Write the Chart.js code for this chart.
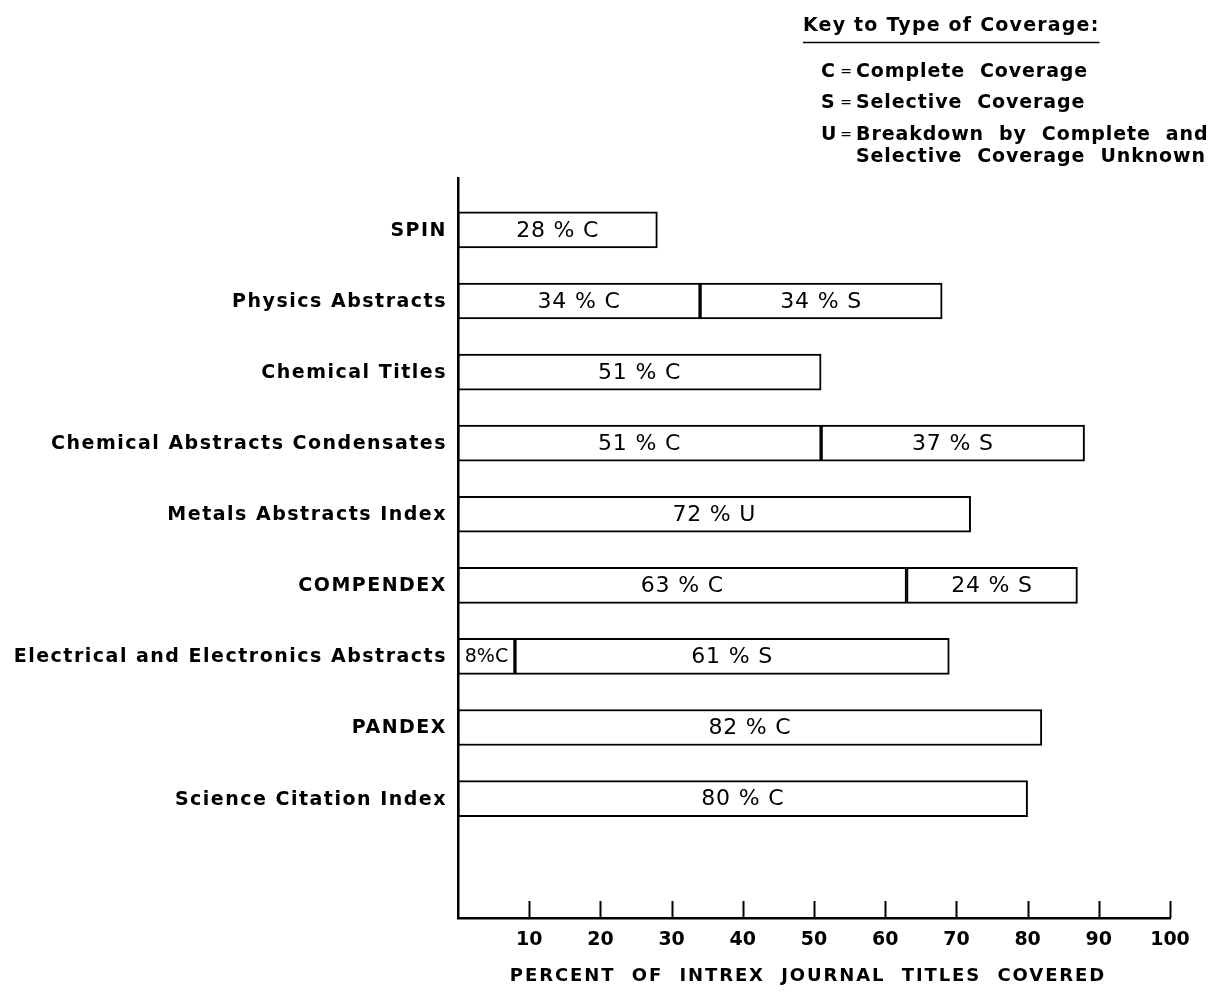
<!DOCTYPE html>
<html>
<head>
<meta charset="utf-8">
<script src="https://cdn.jsdelivr.net/npm/chart.js@4/dist/chart.umd.min.js"></script>
<style>
  html, body { margin: 0; padding: 0; background: #fff; }
  #wrap { width: 1219px; height: 994px; }
</style>
</head>
<body>
<div id="wrap"><canvas id="coverageChart"></canvas></div>
<script>
// services, top to bottom
var services = ['SPIN', 'Physics Abstracts', 'Chemical Titles', 'Chemical Abstracts Condensates',
  'Metals Abstracts Index', 'COMPENDEX', 'Electrical and Electronics Abstracts', 'PANDEX',
  'Science Citation Index'];
// percent of journal titles covered, by type of coverage
var complete  = [28, 34, 51, 51, null, 63, 8, 82, 80];
var selective = [null, 34, null, 37, null, 24, 61, null, null];
var unknown   = [null, null, null, null, 72, null, null, null, null];
var xTickValues = [10, 20, 30, 40, 50, 60, 70, 80, 90, 100];
var xTitle = 'PERCENT  OF  INTREX  JOURNAL  TITLES  COVERED';

var keyTitle = 'Key to Type of Coverage:';
var keyLines = [
  ['C', 'Complete  Coverage'],
  ['S', 'Selective  Coverage'],
  ['U', 'Breakdown  by  Complete  and'],
  ['', 'Selective  Coverage  Unknown']
];

var FONT = '"DejaVu Sans", sans-serif';

function points(arr) {
  var out = [];
  for (var i = 0; i < arr.length; i++) {
    if (arr[i] != null) out.push({ x: arr[i], y: i });
  }
  return out;
}

function barSet(label, code, arr) {
  return {
    label: label,
    code: code,
    data: points(arr),
    backgroundColor: '#fff',
    borderColor: '#000',
    borderWidth: 2,
    borderSkipped: false,
    barThickness: 36
  };
}

// text inside each bar segment
var barLabels = {
  id: 'barLabels',
  afterDatasetsDraw: function(chart) {
    var ctx = chart.ctx;
    ctx.save();
    ctx.fillStyle = '#000';
    ctx.textAlign = 'center';
    ctx.textBaseline = 'middle';
    chart.data.datasets.forEach(function(ds, di) {
      var meta = chart.getDatasetMeta(di);
      meta.data.forEach(function(bar, j) {
        var v = ds.data[j].x;
        var w = Math.abs(bar.x - bar.base);
        var narrow = w < 80;
        var txt = narrow ? v + '%' + ds.code : v + ' % ' + ds.code;
        ctx.font = (narrow ? '19px ' : '22px ') + FONT;
        ctx.letterSpacing = narrow ? '0px' : '0.8px';
        ctx.fillText(txt, (bar.x + bar.base) / 2, bar.y + 1);
      });
    });
    ctx.restore();
  }
};

// category labels, axis title, upward tick marks and the key
var extras = {
  id: 'extras',
  afterDraw: function(chart) {
    var ctx = chart.ctx;
    var xs = chart.scales.x;
    var ys = chart.scales.y;
    var area = chart.chartArea;
    ctx.save();
    ctx.strokeStyle = '#000';
    ctx.fillStyle = '#000';
    ctx.lineWidth = 2;
    xTickValues.forEach(function(v) {
      var px = Math.round(xs.getPixelForValue(v)) + 0.5;
      ctx.beginPath();
      ctx.moveTo(px, area.bottom);
      ctx.lineTo(px, area.bottom - 17);
      ctx.stroke();
    });

    // category names
    ctx.font = 'bold 19px ' + FONT;
    ctx.letterSpacing = '1.5px';
    ctx.textAlign = 'right';
    ctx.textBaseline = 'middle';
    services.forEach(function(s, i) {
      ctx.fillText(s, area.left - 11, ys.getPixelForValue(i) + 1);
    });

    // axis title
    ctx.font = 'bold 18px ' + FONT;
    ctx.letterSpacing = '1.9px';
    ctx.textAlign = 'center';
    ctx.fillText(xTitle, 808, 976);

    // key
    ctx.textBaseline = 'alphabetic';
    ctx.textAlign = 'left';
    ctx.font = 'bold 19px ' + FONT;
    ctx.letterSpacing = '1.2px';
    ctx.fillText(keyTitle, 803, 31);
    var tw = ctx.measureText(keyTitle).width;
    ctx.lineWidth = 1.5;
    ctx.beginPath();
    ctx.moveTo(803, 42.5);
    ctx.lineTo(803 + tw, 42.5);
    ctx.stroke();

    ctx.letterSpacing = '0.9px';
    var ky = [77, 108, 140, 162];
    keyLines.forEach(function(l, i) {
      if (l[0]) {
        ctx.textAlign = 'left';
        ctx.font = 'bold 19px ' + FONT;
        ctx.fillText(l[0], 821, ky[i]);
        ctx.textAlign = 'center';
        ctx.letterSpacing = '0px';
        ctx.font = '14px ' + FONT;
        ctx.fillText('=', 846, ky[i] - 1);
        ctx.letterSpacing = '0.9px';
      }
      ctx.textAlign = 'left';
      ctx.font = 'bold 19px ' + FONT;
      ctx.fillText(l[1], 856, ky[i]);
    });
    ctx.restore();
  }
};

new Chart(document.getElementById('coverageChart'), {
  type: 'bar',
  data: {
    datasets: [
      barSet('Complete', 'C', complete),
      barSet('Selective', 'S', selective),
      barSet('Unknown', 'U', unknown)
    ]
  },
  options: {
    indexAxis: 'y',
    responsive: true,
    maintainAspectRatio: false,
    animation: false,
    layout: { padding: { top: 178, right: 49, left: 0, bottom: 0 } },
    plugins: { legend: { display: false }, tooltip: { enabled: false } },
    scales: {
      x: {
        type: 'linear',
        stacked: true,
        min: 0,
        max: 100,
        grid: { display: false, drawTicks: false },
        border: { display: true, color: '#000', width: 2.5 },
        ticks: {
          stepSize: 10,
          padding: 11,
          color: '#000',
          font: { family: FONT, size: 19, weight: 'bold' },
          callback: function(v) { return v === 0 ? '' : v; }
        },
        afterFit: function(scale) { scale.height = 76; }
      },
      y: {
        type: 'linear',
        stacked: true,
        reverse: true,
        offset: false,
        min: -0.73,
        max: 9.68,
        grid: { display: false, drawTicks: false },
        border: { display: true, color: '#000', width: 2.5 },
        ticks: { display: false },
        afterFit: function(scale) { scale.width = 458; }
      }
    }
  },
  plugins: [barLabels, extras]
});
</script>
</body>
</html>
